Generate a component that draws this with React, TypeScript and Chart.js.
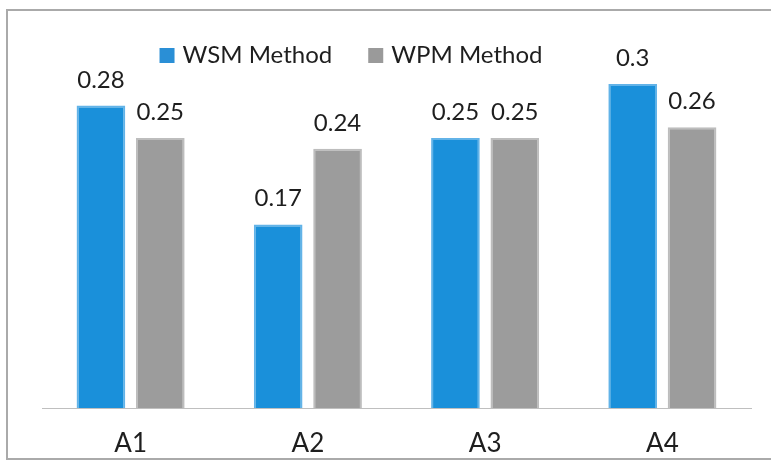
import React, { useEffect, useRef } from "react";
import { Chart, registerables } from "chart.js";

Chart.register(...registerables);

const categories = ["A1", "A2", "A3", "A4"];
const wsmValues = [0.28, 0.17, 0.25, 0.3];
const wpmValues = [0.25, 0.24, 0.25, 0.26];
const seriesNames = ["WSM Method", "WPM Method"];

const FONT = "Lato, 'Open Sans', sans-serif";
const TEXT = "#1e1e1e";

const valueLabels = {
  id: "valueLabels",
  afterDatasetsDraw(chart: any) {
    const ctx = chart.ctx;
    ctx.save();
    ctx.font = `24px ${FONT}`;
    ctx.fillStyle = TEXT;
    ctx.textAlign = "center";
    ctx.textBaseline = "alphabetic";
    chart.data.datasets.forEach((ds: any, di: number) => {
      const meta = chart.getDatasetMeta(di);
      meta.data.forEach((bar: any, i: number) => {
        ctx.fillText(String(ds.data[i]), bar.x, bar.y - 18);
      });
    });
    ctx.restore();
  },
};

const topLegend = {
  id: "topLegend",
  afterDraw(chart: any) {
    const ctx = chart.ctx;
    ctx.save();
    ctx.font = `24px ${FONT}`;
    ctx.textBaseline = "alphabetic";
    ctx.textAlign = "left";
    const box = 15;
    const gapBoxText = 8;
    const itemGap = 36;
    const items = chart.data.datasets.map((ds: any) => ({
      label: ds.label,
      color: ds.legendColor,
      w: ctx.measureText(ds.label).width,
    }));
    const total = items.reduce(
      (s: number, it: any, i: number) => s + box + gapBoxText + it.w + (i > 0 ? itemGap : 0),
      0
    );
    let x = 351 - total / 2;
    const baseline = 63;
    items.forEach((it: any, i: number) => {
      if (i > 0) x += itemGap;
      ctx.fillStyle = it.color;
      ctx.fillRect(x, 48, box, box);
      x += box + gapBoxText;
      ctx.fillStyle = TEXT;
      ctx.fillText(it.label, x, baseline);
      x += it.w;
    });
    ctx.restore();
  },
};

export default function App() {
  const canvasRef = useRef<HTMLCanvasElement | null>(null);

  useEffect(() => {
    const canvas = canvasRef.current;
    if (!canvas) return;
    const chart = new Chart(canvas, {
      type: "bar",
      data: {
        labels: categories,
        datasets: [
          {
            label: seriesNames[0],
            data: wsmValues,
            backgroundColor: "#1a90da",
            borderColor: "#62b3e8",
            borderWidth: 2,
            legendColor: "#2a8fd6",
          } as any,
          {
            label: seriesNames[1],
            data: wpmValues,
            backgroundColor: "#9c9c9c",
            borderColor: "#bdbdbd",
            borderWidth: 2,
            legendColor: "#9a9a9a",
          } as any,
        ],
      },
      options: {
        animation: false,
        responsive: false,
        devicePixelRatio: 1,
        layout: { padding: { left: 42, right: 20, top: 30, bottom: 0 } },
        datasets: {
          bar: { categoryPercentage: 0.67, barPercentage: 0.82 },
        },
        plugins: {
          legend: { display: false },
          tooltip: { enabled: false },
        },
        scales: {
          x: {
            grid: { display: false, drawTicks: false },
            border: { display: true, color: "#bfbfbf", width: 1 },
            ticks: {
              color: TEXT,
              font: { family: FONT, size: 26 },
              padding: 20,
            },
            afterFit(scale: any) {
              scale.height = 56;
            },
          },
          y: {
            display: false,
            min: 0,
            max: 0.35,
          },
        },
      },
      plugins: [valueLabels, topLegend],
    });
    return () => chart.destroy();
  }, []);

  return (
    <div
      style={{
        position: "absolute",
        left: 0,
        top: 0,
        width: 771,
        height: 464,
        overflow: "hidden",
        background: "#fff",
      }}
    >
      <div
        style={{
          position: "absolute",
          left: 6,
          top: 9,
          width: 790,
          height: 447,
          border: "2px solid #aaaaaa",
        }}
      />
      <canvas
        ref={canvasRef}
        width={771}
        height={464}
        style={{ position: "absolute", left: 0, top: 0, width: 771, height: 464 }}
      />
    </div>
  );
}
